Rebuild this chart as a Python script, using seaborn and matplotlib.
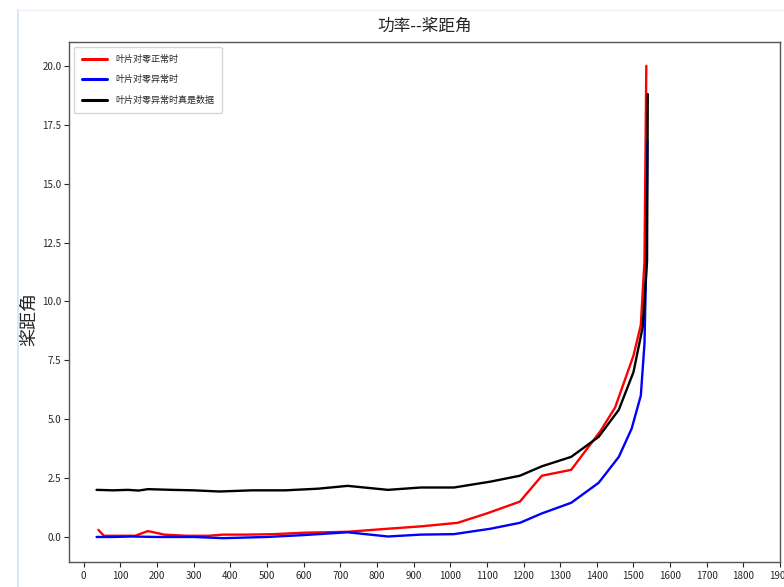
import matplotlib
matplotlib.use("Agg")
import matplotlib.pyplot as plt
from matplotlib.lines import Line2D
import numpy as np
import pandas as pd
import seaborn as sns

# Pitch angle vs. power for the three blade-zeroing cases
normal_power = [40, 55, 100, 140, 175, 220, 280, 340, 380, 450, 520, 600, 720,
                830, 920, 1020, 1100, 1190, 1250, 1330, 1410, 1450, 1500,
                1520, 1530, 1535]
normal_pitch = [0.3, 0.05, 0.05, 0.05, 0.25, 0.1, 0.05, 0.05, 0.1, 0.1, 0.12,
                0.18, 0.22, 0.35, 0.45, 0.6, 1.0, 1.5, 2.6, 2.85, 4.5, 5.5,
                7.7, 9.0, 11.7, 20.0]

abnormal_power = [35, 80, 130, 200, 300, 380, 500, 600, 720, 830, 920, 1010,
                  1110, 1190, 1250, 1330, 1405, 1460, 1495, 1520, 1530, 1535,
                  1538]
abnormal_pitch = [0.0, 0.0, 0.02, 0.0, 0.0, -0.05, 0.0, 0.08, 0.2, 0.02, 0.1,
                  0.12, 0.35, 0.6, 1.0, 1.45, 2.3, 3.4, 4.6, 6.0, 8.2, 11.7,
                  16.8]

real_power = [35, 80, 120, 150, 175, 240, 300, 370, 460, 550, 640, 720, 830,
              920, 1010, 1110, 1190, 1250, 1330, 1405, 1460, 1500, 1525, 1537,
              1539]
real_pitch = [2.0, 1.98, 2.0, 1.97, 2.03, 2.0, 1.98, 1.93, 1.98, 1.98, 2.05,
              2.17, 2.0, 2.1, 2.1, 2.35, 2.6, 3.0, 3.4, 4.25, 5.4, 7.0, 8.9,
              11.7, 18.8]

series_labels = ["叶片对零正常时", "叶片对零异常时", "叶片对零异常时真是数据"]
series_colors = ["red", "blue", "black"]
x_ticks = list(range(0, 2000, 100))

title_text = "功率--桨距角"
ylabel_text = "桨距角"

sns.set_style("ticks")
cjk = ["Noto Sans CJK SC", "DejaVu Sans"]
plt.rcParams["font.family"] = ["Liberation Sans Narrow", "Noto Sans CJK SC", "DejaVu Sans"]
plt.rcParams["axes.unicode_minus"] = False

fig = plt.figure(figsize=(7.84, 5.87), dpi=100)
ax = fig.add_axes([0.088, 0.043, 0.907, 0.885])

frames = [
    pd.DataFrame({"power": normal_power, "pitch": normal_pitch}),
    pd.DataFrame({"power": abnormal_power, "pitch": abnormal_pitch}),
    pd.DataFrame({"power": real_power, "pitch": real_pitch}),
]
for df, lab, col in zip(frames, series_labels, series_colors):
    sns.lineplot(data=df, x="power", y="pitch", ax=ax, color=col, label=lab,
                 sort=False, estimator=None, linewidth=1.7)

ax.set_xticks(x_ticks)
ax.set_xticklabels([str(t) for t in x_ticks], fontsize=7)
ax.tick_params(axis="y", labelsize=7, pad=2)
ax.tick_params(length=3.5, width=0.8)
ax.set_xlabel("")
ax.set_ylabel(ylabel_text, fontsize=13, family=cjk)
ax.yaxis.set_label_coords(-0.043, 0.467)
ax.set_title(title_text, fontsize=12, family=cjk, pad=8)

for s in ax.spines.values():
    s.set_color("#555555")
    s.set_linewidth(1.0)

leg = ax.legend(loc="upper left", prop={"family": cjk, "size": 6.5},
                handlelength=2.8, borderpad=0.9, labelspacing=1.25,
                handletextpad=0.9)
for h in leg.get_lines():
    h.set_linewidth(2.2)

# faint window border along the left and top edges
fig.add_artist(Line2D([18 / 784, 18 / 784], [0, 1 - 10 / 587],
                      transform=fig.transFigure, color="#dbe8f7", lw=1.5))
fig.add_artist(Line2D([18 / 784, 1], [1 - 10 / 587, 1 - 10 / 587],
                      transform=fig.transFigure, color="#eef4fb", lw=1.0))

fig.savefig("out.png", dpi=100)
